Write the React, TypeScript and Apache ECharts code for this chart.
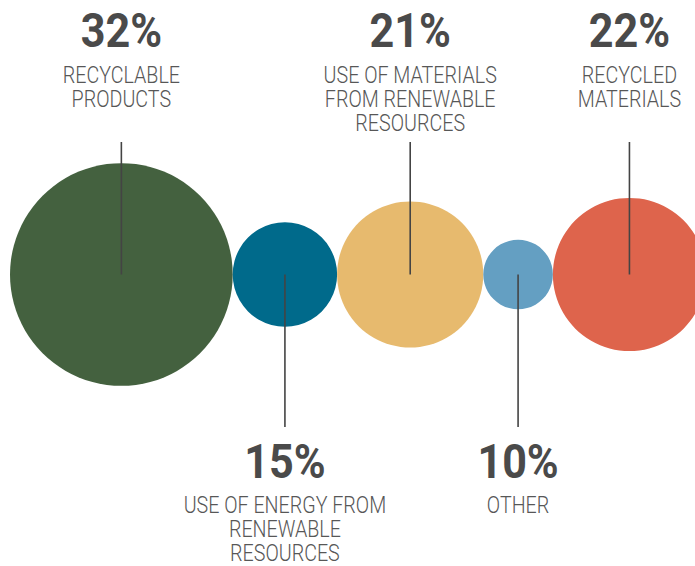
import React, { useEffect, useRef } from "react";
import * as echarts from "echarts";

const categories = [
  "RECYCLABLE\nPRODUCTS",
  "USE OF ENERGY FROM\nRENEWABLE\nRESOURCES",
  "USE OF MATERIALS\nFROM RENEWABLE\nRESOURCES",
  "OTHER",
  "RECYCLED\nMATERIALS",
];
const values = [32, 15, 21, 10, 22];
const percentLabels = ["32%", "15%", "21%", "10%", "22%"];
const labelSides = ["top", "bottom", "top", "bottom", "top"];
const colors = ["#44613F", "#006A8B", "#E7BA6E", "#649FC2", "#DE644C"];

export default function App() {
  const ref = useRef<HTMLDivElement>(null);
  useEffect(() => {
    if (!ref.current) return;
    const chart = echarts.init(ref.current, undefined, { renderer: "svg" });
    let acc = 0;
    const data = values.map((v, i) => {
      const c = acc + v / 2;
      acc += v;
      return [c, 0, v, i];
    });
    const option: any = {
      animation: false,
      grid: { left: 10, width: 696, top: 0, height: 549, outerBoundsMode: "none", containLabel: false },
      xAxis: { type: "value", min: 0, max: 100, show: false },
      yAxis: { type: "value", min: -1, max: 1, show: false },
      series: [
        {
          type: "custom",
          coordinateSystem: "cartesian2d",
          clip: false,
          data,
          renderItem: (params: any, api: any) => {
            const idx = api.value(3);
            const pt = api.coord([api.value(0), api.value(1)]);
            const d = api.size([api.value(2), 0])[0];
            const r = d / 2;
            const cx = pt[0];
            const cy = pt[1];
            const top = labelSides[idx] === "top";
            const lineEnd = top ? 142 : 427;
            const pctY = top ? 30 : 461;
            const nameTop = top ? 62.5 : 493;
            return {
              type: "group",
              children: [
                {
                  type: "circle",
                  shape: { cx, cy, r },
                  style: { fill: colors[idx] },
                },
                {
                  type: "line",
                  shape: { x1: cx, y1: cy, x2: cx, y2: lineEnd },
                  style: { stroke: "#444444", lineWidth: 1.6 },
                },
                {
                  type: "text",
                  x: cx,
                  y: pctY,
                  scaleX: 0.88,
                  style: {
                    text: percentLabels[idx],
                    x: 0,
                    y: 0,
                    align: "center",
                    verticalAlign: "middle",
                    fontFamily: "Roboto",
                    fontWeight: "bold",
                    fontSize: 49,
                    fill: "#4a4a4a",
                  },
                },
                {
                  type: "text",
                  x: cx,
                  y: nameTop,
                  scaleX: 0.82,
                  style: {
                    text: categories[idx],
                    x: 0,
                    y: 0,
                    align: "center",
                    verticalAlign: "top",
                    fontFamily: "Roboto",
                    fontWeight: 300,
                    fontSize: 24,
                    lineHeight: 24,
                    fill: "#575757",
                  },
                },
              ],
            };
          },
        },
      ],
    };
    chart.setOption(option);
    return () => chart.dispose();
  }, []);
  return (
    <div
      ref={ref}
      style={{ position: "fixed", left: 0, top: 0, width: 695, height: 566, background: "#fff" }}
    />
  );
}
